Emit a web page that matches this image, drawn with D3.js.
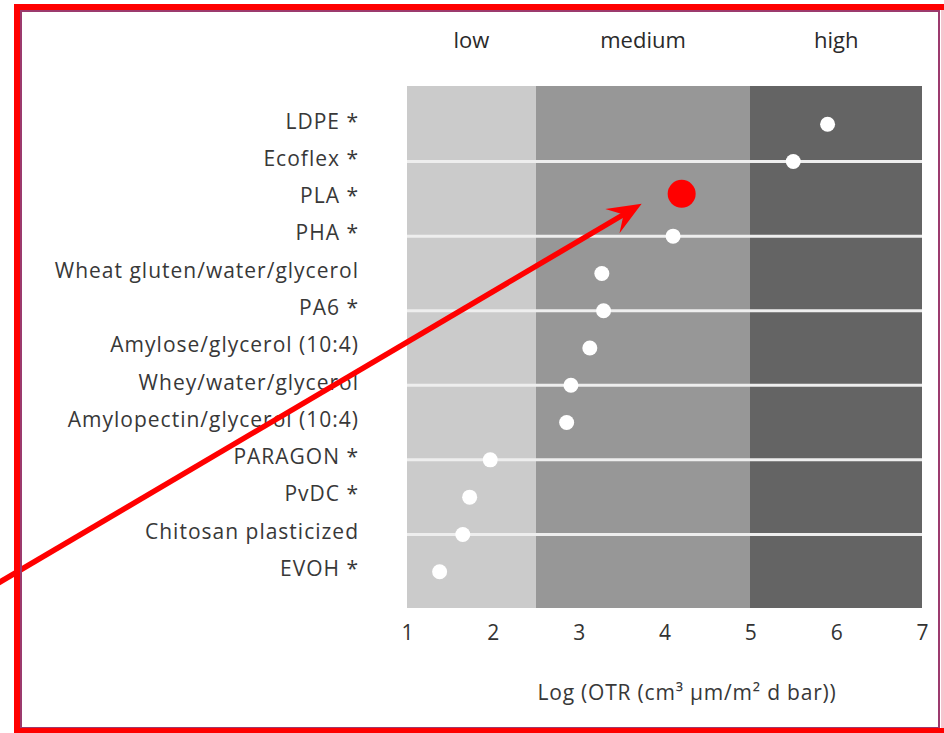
<html lang="en">
<head>
    <meta charset="utf-8">
    <title>Oxygen transmission rate</title>
    <script src="https://cdnjs.cloudflare.com/ajax/libs/d3/7.8.5/d3.min.js"></script>
    <style type="text/css">
        body {
            margin: 0;
            background: #fff;
            font-family: "Open Sans", sans-serif;
        }
        .axis path,
        .axis line {
            display: none;
        }
    </style>
</head>
<body>
<svg id="chart"></svg>
<script type="text/javascript">

    // materials, top to bottom
    var materials = ["LDPE *", "Ecoflex *", "PLA *", "PHA *", "Wheat gluten/water/glycerol", "PA6 *",
        "Amylose/glycerol (10:4)", "Whey/water/glycerol", "Amylopectin/glycerol (10:4)",
        "PARAGON *", "PvDC *", "Chitosan plasticized", "EVOH *"];
    // log OTR
    var logOTR = [5.9, 5.5, 4.2, 4.1, 3.27, 3.29, 3.13, 2.91, 2.86, 1.97, 1.73, 1.65, 1.38];
    // highlighted material (red dot + arrow)
    var highlighted = ["PLA *"];

    var bandNames = ["low", "medium", "high"];
    var bandEdges = [1, 2.5, 5, 7];
    var bandColors = ["#cbcbcb", "#979797", "#646464"];
    var xTicks = [1, 2, 3, 4, 5, 6, 7];

    var width = 944,
        height = 733;
    var plot = {left: 407, right: 922, top: 86, bottom: 608};

    var svg = d3.select("#chart")
        .attr("width", width)
        .attr("height", height);

    var x = d3.scaleLinear()
        .domain([1, 7])
        .range([plot.left, plot.right]);

    var y = d3.scalePoint()
        .domain(materials)
        .range([plot.top, plot.bottom])
        .padding(1);

    // background bands
    var bands = bandNames.map(function (name, i) {
        return {name: name, x0: bandEdges[i], x1: bandEdges[i + 1], color: bandColors[i]};
    });

    svg.append("g")
        .selectAll("rect")
        .data(bands)
        .enter().append("rect")
        .attr("x", function (d) { return x(d.x0); })
        .attr("width", function (d) { return x(d.x1) - x(d.x0); })
        .attr("y", plot.top)
        .attr("height", plot.bottom - plot.top)
        .attr("fill", function (d) { return d.color; })
        .style("shape-rendering", "crispEdges");

    svg.append("g")
        .selectAll("text")
        .data(bands)
        .enter().append("text")
        .attr("x", function (d) { return (x(d.x0) + x(d.x1)) / 2; })
        .attr("y", 48)
        .attr("text-anchor", "middle")
        .style("font-size", "22px")
        .style("fill", "#2a2a2a")
        .text(function (d) { return d.name; });

    // white separator lines on every other row
    svg.append("g")
        .selectAll("line")
        .data(materials.filter(function (d, i) { return i % 2 === 1; }))
        .enter().append("line")
        .attr("x1", plot.left)
        .attr("x2", plot.right)
        .attr("y1", function (d) { return y(d) + 1; })
        .attr("y2", function (d) { return y(d) + 1; })
        .attr("stroke", "#eeeeee")
        .attr("stroke-width", 3);

    // left labels
    svg.append("g")
        .attr("class", "axis")
        .attr("transform", "translate(" + (plot.left - 48) + ",-2)")
        .call(d3.axisLeft(y).tickSize(0).tickPadding(0))
        .selectAll("text")
        .style("font-family", "'Open Sans', sans-serif")
        .style("font-size", "21px")
        .style("letter-spacing", "1px")
        .style("fill", "#383838");

    // x axis
    svg.append("g")
        .attr("class", "axis")
        .attr("transform", "translate(0," + plot.bottom + ")")
        .call(d3.axisBottom(x).tickValues(xTicks).tickFormat(d3.format("d")).tickSize(0).tickPadding(17))
        .selectAll("text")
        .style("font-family", "'Open Sans', sans-serif")
        .style("font-size", "21px")
        .style("fill", "#333");

    svg.append("text")
        .attr("x", 687)
        .attr("y", 700)
        .attr("text-anchor", "middle")
        .style("font-size", "21px")
        .style("letter-spacing", "0.8px")
        .style("fill", "#383838")
        .text("Log (OTR (cm³ µm/m² d bar))");

    // dots
    var points = materials.map(function (m, i) {
        return {name: m, value: logOTR[i], hot: highlighted.indexOf(m) >= 0};
    });

    svg.append("g")
        .selectAll("circle")
        .data(points)
        .enter().append("circle")
        .attr("cx", function (d) { return x(d.value); })
        .attr("cy", function (d) { return y(d.name) + (d.hot ? -4 : 1); })
        .attr("r", function (d) { return d.hot ? 14 : 7.5; })
        .attr("fill", function (d) { return d.hot ? "#ff0000" : "#ffffff"; });

    // red annotation arrow pointing at the highlighted dot
    var hot = points.filter(function (d) { return d.hot; })[0];
    var tip = [x(hot.value) - 40, y(hot.name) + 6];
    var start = [-5, 585];
    var ang = Math.atan2(tip[1] - start[1], tip[0] - start[0]);

    svg.append("line")
        .attr("x1", start[0])
        .attr("y1", start[1])
        .attr("x2", tip[0] - 18 * Math.cos(ang))
        .attr("y2", tip[1] - 18 * Math.sin(ang))
        .attr("stroke", "#ff0000")
        .attr("stroke-width", 5.5);

    svg.append("path")
        .attr("transform", "translate(" + tip[0] + "," + tip[1] + ") rotate(" + (ang * 180 / Math.PI) + ")")
        .attr("d", "M0,0 L-34,-14 L-21,0 L-34,14 Z")
        .attr("fill", "#ff0000");

    // frame
    svg.append("rect")
        .attr("x", 21)
        .attr("y", 11)
        .attr("width", 918)
        .attr("height", 717)
        .attr("fill", "none")
        .attr("stroke", "#9c3a6e")
        .attr("stroke-width", 2);

    svg.append("rect")
        .attr("x", 941)
        .attr("y", 10)
        .attr("width", 3)
        .attr("height", 720)
        .attr("fill", "#f6c6cf");

    svg.append("rect")
        .attr("x", 17)
        .attr("y", 7)
        .attr("width", 940)
        .attr("height", 724)
        .attr("fill", "none")
        .attr("stroke", "#ff0000")
        .attr("stroke-width", 6);

</script>
</body>
</html>
